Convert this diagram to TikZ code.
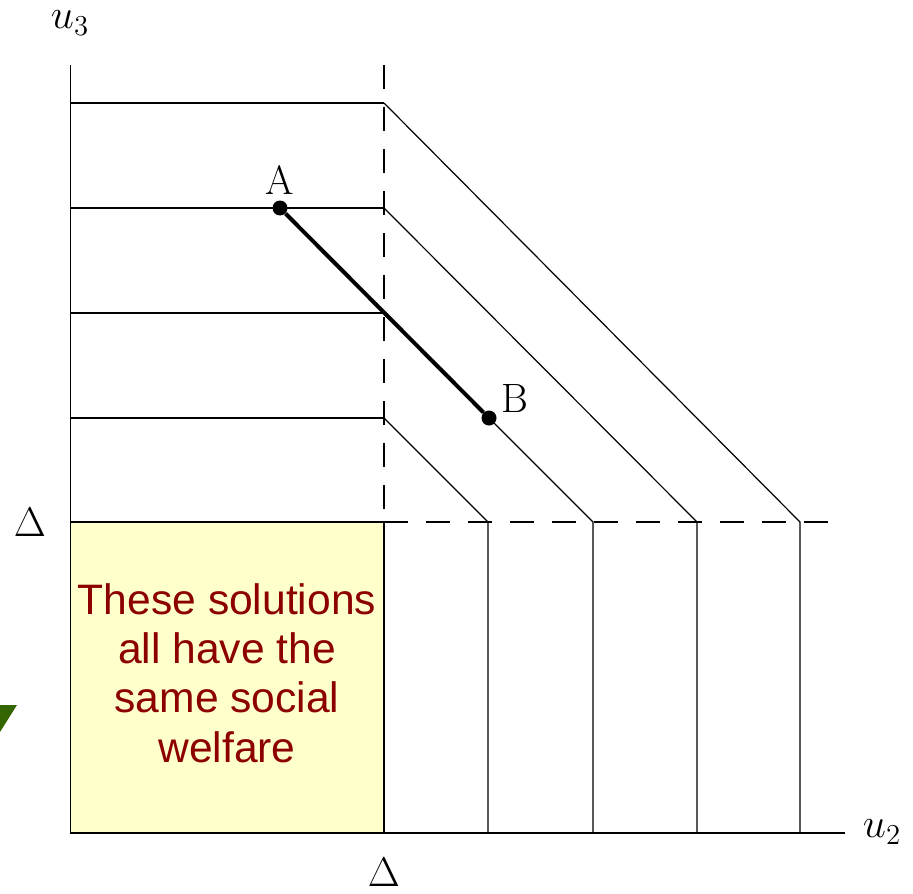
\documentclass[tikz,border=0pt]{standalone}
\usepackage{fontspec}
\newfontfamily\notefont{Liberation Sans}
\usetikzlibrary{calc}
\definecolor{notefill}{RGB}{255,255,204}
\definecolor{notetext}{RGB}{140,0,0}
\definecolor{pointer}{RGB}{51,102,0}
\tikzset{
  axisline/.style={draw=black, line width=0.5pt},
  groundline/.style={draw=black, line width=1pt},
  level/.style={draw=black, line width=0.9pt},
  slope/.style={draw=black, line width=0.6pt},
  guide/.style={draw=black, line width=0.9pt, dash pattern=on 12pt off 9pt},
  segment/.style={draw=black, line width=2pt},
  dot/.style={circle, fill=black, minimum size=7.5pt, inner sep=0pt},
  lbl/.style={font=\fontsize{20.5}{24}\selectfont, inner sep=0pt},
  note/.style={font=\notefont\fontsize{21.3}{24.6}\selectfont, text=notetext, align=center, inner sep=0pt}
}
\begin{document}
\begin{tikzpicture}[x=0.5pt, y=-0.5pt]
\useasboundingbox (0,0) rectangle (913,893);
% axes and guides
\coordinate (O) at (70,833);
\coordinate (ytop) at (70,65);
\coordinate (xend) at (845,833);
\coordinate (gtop) at (384,65);
\coordinate (gcorner) at (384,522);
\coordinate (gend) at (845,522);
\coordinate (ylev) at (70,522);
\coordinate (gfoot) at (384,833);
\fill[notefill] (ylev) rectangle (gfoot);
\draw[slope] (gcorner) -- (gfoot);
\draw[axisline] (ytop) -- (O);
\draw[groundline] (O) -- (xend);
\draw[guide] (gtop) -- (gcorner);
\draw[guide] (gcorner) -- (gend);
\draw[level] (ylev) -- (gcorner);
% level sets
\foreach \y/\x [count=\i] in {103/800, 208/697, 313/593, 418/488} {
  \coordinate (left\i) at (70,\y);
  \coordinate (kink\i) at (384,\y);
  \coordinate (corner\i) at (\x,522);
  \coordinate (foot\i) at (\x,833);
  \draw[level] (left\i) -- (kink\i);
  \draw[slope] (kink\i) -- (corner\i) -- (foot\i);
}
% points A and B
\node[dot] (A) at (280,208) {};
\node[dot] (B) at (489,418) {};
\draw[segment] (A) -- (B);
\node[lbl] (Alabel) at (280,180) {A};
\node[lbl, anchor=west] (Blabel) at (501,398) {B};
% axis labels
\node[lbl] (u3) at (70,23) {$u_3$};
\node[lbl] (u2) at (882,832) {$u_2$};
\node[lbl] (dleft) at (30,522) {$\Delta$};
\node[lbl] (dbottom) at (384,872) {$\Delta$};
% note
\node[note] (note) at (227,673) {These solutions\\all have the\\same social\\welfare};
\fill[pointer] (0,705) -- (17,705) -- (0,732) -- cycle;
\end{tikzpicture}
\end{document}
